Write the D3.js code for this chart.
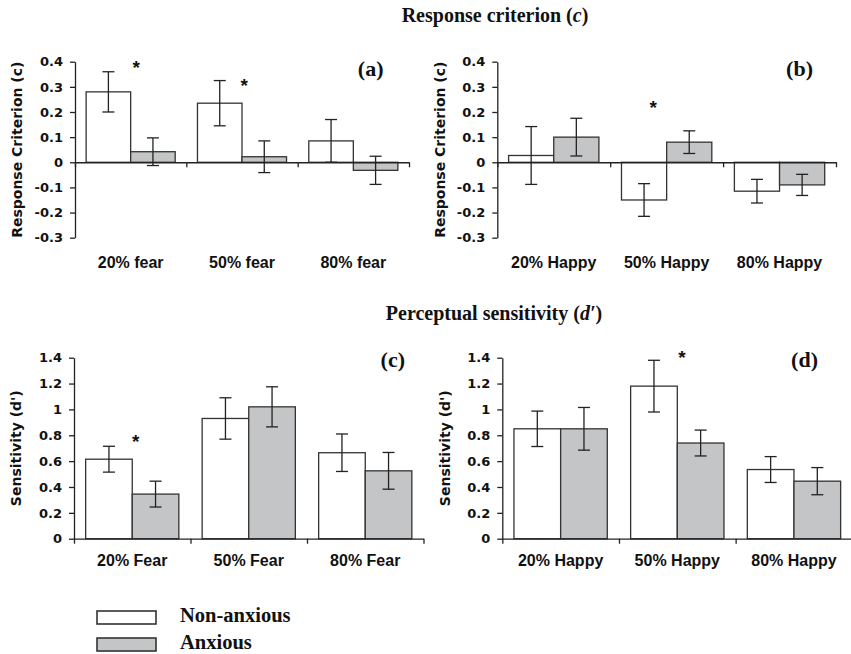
<!DOCTYPE html>
<html>
<head>
<meta charset="utf-8">
<script src="https://cdn.jsdelivr.net/npm/d3@7"></script>
<style>
  body { margin: 0; background: #fff; }
</style>
</head>
<body>
<svg id="chart" width="851" height="654"></svg>
<script>
// Categories
const fearCats = ["20% fear", "50% fear", "80% fear"];
const fearCatsCap = ["20% Fear", "50% Fear", "80% Fear"];
const happyCats = ["20% Happy", "50% Happy", "80% Happy"];
const groups = ["Non-anxious", "Anxious"];

// Response criterion (c)
const critFearNon = [0.28, 0.235, 0.085];
const critFearNonErr = [0.08, 0.09, 0.085];
const critFearAnx = [0.042, 0.022, -0.032];
const critFearAnxErr = [0.055, 0.063, 0.056];
const critHappyNon = [0.027, -0.15, -0.115];
const critHappyNonErr = [0.115, 0.065, 0.047];
const critHappyAnx = [0.10, 0.08, -0.09];
const critHappyAnxErr = [0.075, 0.045, 0.042];

// Perceptual sensitivity (d')
const sensFearNon = [0.615, 0.93, 0.665];
const sensFearNonErr = [0.10, 0.16, 0.145];
const sensFearAnx = [0.345, 1.02, 0.525];
const sensFearAnxErr = [0.10, 0.155, 0.142];
const sensHappyNon = [0.85, 1.18, 0.535];
const sensHappyNonErr = [0.137, 0.20, 0.10];
const sensHappyAnx = [0.85, 0.74, 0.445];
const sensHappyAnxErr = [0.165, 0.10, 0.105];

// Tick values
const critTicks = [-0.3, -0.2, -0.1, 0, 0.1, 0.2, 0.3, 0.4];
const sensTicks = [0, 0.2, 0.4, 0.6, 0.8, 1, 1.2, 1.4];

// Significance stars: category index, where across the category, height in data units
const starsA = [{ cat: 0, at: 0.55, v: 0.393 }, { cat: 1, at: 0.52, v: 0.323 }];
const starsB = [{ cat: 1, at: 0.38, v: 0.235 }];
const starsC = [{ cat: 0, at: 0.53, v: 0.79 }];
const starsD = [{ cat: 1, at: 0.54, v: 1.435 }];

const svg = d3.select("#chart");
const sans = "'DejaVu Sans', sans-serif";
const arial = "'Liberation Sans', Arial, sans-serif";
const serif = "'Liberation Serif', 'Times New Roman', serif";
const ink = "#222";
const fills = { "Non-anxious": "#ffffff", "Anxious": "#c4c5c7" };

function fmt(d) { return String(Math.round(d * 10) / 10); }

function drawPanel(p) {
  const g = svg.append("g");
  const y = d3.scaleLinear().domain(p.domain).range([p.bottom, p.top]);
  const x0 = d3.scaleBand().domain(p.cats).range([p.left, p.right]);
  const x1 = d3.scaleBand().domain(groups).range([0, x0.bandwidth()]).paddingOuter(0.25);
  const xb = d3.scaleLinear().domain([0, p.cats.length]).range([p.left, p.right]);

  const rows = [];
  p.cats.forEach((c, i) => {
    rows.push({ cat: c, grp: groups[0], v: p.non[i], e: p.nonErr[i] });
    rows.push({ cat: c, grp: groups[1], v: p.anx[i], e: p.anxErr[i] });
  });

  // Bars
  g.selectAll("rect.bar").data(rows).enter().append("rect")
    .attr("class", "bar")
    .attr("x", d => x0(d.cat) + x1(d.grp))
    .attr("y", d => Math.min(y(d.v), y(0)))
    .attr("width", x1.bandwidth())
    .attr("height", d => Math.abs(y(d.v) - y(0)))
    .style("fill", d => fills[d.grp])
    .style("stroke", "#333")
    .style("stroke-width", 1.3);

  // Error bars
  const eb = g.selectAll("g.err").data(rows).enter().append("g")
    .attr("class", "err")
    .attr("transform", d => "translate(" + (x0(d.cat) + x1(d.grp) + x1.bandwidth() / 2) + ",0)");
  eb.append("line").attr("y1", d => y(d.v - d.e)).attr("y2", d => y(d.v + d.e));
  eb.append("line").attr("x1", -6).attr("x2", 6).attr("y1", d => y(d.v + d.e)).attr("y2", d => y(d.v + d.e));
  eb.append("line").attr("x1", -6).attr("x2", 6).attr("y1", d => y(d.v - d.e)).attr("y2", d => y(d.v - d.e));
  eb.selectAll("line").style("stroke", ink).style("stroke-width", 1.3);

  // Y axis
  const ya = g.append("g")
    .attr("transform", "translate(" + p.left + ",0)")
    .call(d3.axisLeft(y).tickValues(p.ticks).tickFormat(fmt).tickSize(5).tickSizeOuter(0).tickPadding(7));
  ya.selectAll("path, line").style("stroke", ink).style("stroke-width", 1.3);
  ya.selectAll("text").style("font-family", sans).style("font-weight", "bold")
    .style("font-size", "13px").style("fill", "#111");

  // X axis at zero with ticks at category boundaries
  const xa = g.append("g")
    .attr("transform", "translate(0," + y(0) + ")")
    .call(d3.axisBottom(xb).tickValues(d3.range(p.cats.length + 1)).tickFormat("").tickSize(5).tickSizeOuter(0));
  xa.selectAll("path, line").style("stroke", ink).style("stroke-width", 1.3);

  // Category labels
  g.selectAll("text.cat").data(p.cats).enter().append("text")
    .attr("class", "cat")
    .attr("x", d => x0(d) + x0.bandwidth() / 2)
    .attr("y", p.bottom + p.labelGap)
    .attr("text-anchor", "middle")
    .style("font-family", arial).style("font-weight", "bold").style("font-size", "16px")
    .style("fill", "#111")
    .text(d => d);

  // Y title
  g.append("text")
    .attr("transform", "translate(" + (p.left - 57) + "," + (p.top + p.bottom) / 2 + ") rotate(-90)")
    .attr("dy", "0.32em")
    .attr("text-anchor", "middle")
    .style("font-family", sans).style("font-weight", "bold").style("font-size", "14px")
    .style("fill", "#111")
    .text(p.ytitle);

  // Panel letter
  g.append("text")
    .attr("x", p.tagX)
    .attr("y", p.top + p.tagDy)
    .attr("text-anchor", "end")
    .style("font-family", serif).style("font-weight", "bold").style("font-size", "22px")
    .style("fill", "#111")
    .text(p.tag);

  // Stars
  g.selectAll("text.star").data(p.stars).enter().append("text")
    .attr("class", "star")
    .attr("x", d => x0(p.cats[d.cat]) + x0.bandwidth() * d.at)
    .attr("y", d => y(d.v))
    .attr("dy", "0.58em")
    .attr("text-anchor", "middle")
    .style("font-family", arial).style("font-weight", "bold").style("font-size", "19px")
    .style("fill", "#111")
    .text("*");
}

const critDomain = [d3.min(critTicks), d3.max(critTicks)];
const sensDomain = [d3.min(sensTicks), d3.max(sensTicks)];

drawPanel({ cats: fearCats, non: critFearNon, nonErr: critFearNonErr, anx: critFearAnx, anxErr: critFearAnxErr,
  ticks: critTicks, domain: critDomain, stars: starsA, ytitle: "Response Criterion (c)", tag: "(a)",
  left: 75, right: 409, top: 61.7, bottom: 237.7, labelGap: 30, tagX: 383.5, tagDy: 14 });
drawPanel({ cats: happyCats, non: critHappyNon, nonErr: critHappyNonErr, anx: critHappyAnx, anxErr: critHappyAnxErr,
  ticks: critTicks, domain: critDomain, stars: starsB, ytitle: "Response Criterion (c)", tag: "(b)",
  left: 497.3, right: 836, top: 61.7, bottom: 237.7, labelGap: 30, tagX: 813, tagDy: 14 });
drawPanel({ cats: fearCatsCap, non: sensFearNon, nonErr: sensFearNonErr, anx: sensFearAnx, anxErr: sensFearAnxErr,
  ticks: sensTicks, domain: sensDomain, stars: starsC, ytitle: "Sensitivity (d')", tag: "(c)",
  left: 74, right: 423.5, top: 357.7, bottom: 538.7, labelGap: 27.5, tagX: 405, tagDy: 9.5 });
drawPanel({ cats: happyCats, non: sensHappyNon, nonErr: sensHappyNonErr, anx: sensHappyAnx, anxErr: sensHappyAnxErr,
  ticks: sensTicks, domain: sensDomain, stars: starsD, ytitle: "Sensitivity (d')", tag: "(d)",
  left: 502.3, right: 852.3, top: 357.7, bottom: 538.7, labelGap: 27.5, tagX: 818, tagDy: 9.5 });

// Section titles
function sectionTitle(x, y, pre, it) {
  const t = svg.append("text")
    .attr("x", x).attr("y", y).attr("text-anchor", "middle")
    .style("font-family", serif).style("font-weight", "bold").style("font-size", "20px")
    .style("fill", "#111");
  t.append("tspan").text(pre + "(");
  t.append("tspan").style("font-style", "italic").text(it);
  t.append("tspan").text(")");
}
sectionTitle(495, 22, "Response criterion ", "c");
sectionTitle(494, 320, "Perceptual sensitivity ", "d\u2032");

// Legend
const legend = svg.append("g");
groups.forEach((grp, i) => {
  legend.append("rect")
    .attr("x", 97).attr("y", 611 + i * 27)
    .attr("width", 59).attr("height", 13)
    .style("fill", fills[grp]).style("stroke", "#333").style("stroke-width", 1.6);
  legend.append("text")
    .attr("x", 180).attr("y", 622.3 + i * 27)
    .style("font-family", serif).style("font-weight", "bold").style("font-size", "20.5px")
    .style("fill", "#111")
    .text(grp);
});
</script>
</body>
</html>
